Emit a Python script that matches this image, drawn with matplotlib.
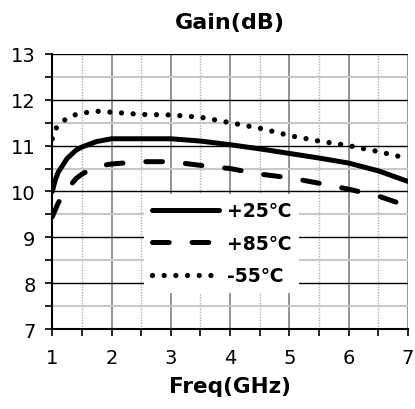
import matplotlib
matplotlib.use('Agg')
import matplotlib.pyplot as plt
from matplotlib.ticker import MultipleLocator

plt.rcParams['font.family'] = ['DejaVu Sans']
plt.rcParams['lines.scale_dashes'] = False

# data
freq = [1.0, 1.05, 1.1, 1.25, 1.4, 1.5, 1.75, 2.0, 2.5, 3.0, 3.5, 4.0, 4.5, 5.0, 5.5, 6.0, 6.5, 7.0]
gain_25 = [10.0, 10.25, 10.42, 10.72, 10.9, 10.97, 11.09, 11.15, 11.15, 11.15, 11.1, 11.02, 10.93, 10.83, 10.73, 10.62, 10.45, 10.22]
gain_85 = [9.45, 9.6, 9.75, 10.05, 10.28, 10.38, 10.55, 10.6, 10.65, 10.65, 10.57, 10.5, 10.38, 10.3, 10.18, 10.05, 9.9, 9.68]
gain_m55 = [11.15, 11.35, 11.45, 11.6, 11.68, 11.71, 11.75, 11.73, 11.68, 11.67, 11.62, 11.5, 11.38, 11.22, 11.1, 11.0, 10.87, 10.72]
labels = ['+25℃', '+85℃', '-55℃']

fig = plt.figure(figsize=(4.15, 4.10), dpi=100)
ax = fig.add_axes([0.126, 0.195, 0.857, 0.671])

ax.plot(freq, gain_25, color='black', lw=3.6, solid_capstyle='round', label=labels[0])
ax.plot(freq, gain_85, color='black', lw=3.6, linestyle=(0, (12, 16.5)),
        dash_capstyle='round', label=labels[1])
ax.plot(freq, gain_m55, color='black', lw=3.8, linestyle=(0, (0.01, 8.4)),
        dash_capstyle='round', label=labels[2])

ax.set_xlim(1, 7)
ax.set_ylim(7, 13)
ax.xaxis.set_major_locator(MultipleLocator(1))
ax.xaxis.set_minor_locator(MultipleLocator(0.5))
ax.yaxis.set_major_locator(MultipleLocator(1))
ax.yaxis.set_minor_locator(MultipleLocator(0.5))

ax.grid(which='major', axis='y', color='black', lw=1.0)
ax.grid(which='minor', axis='y', color='#c8c8c8', lw=1.5)
ax.grid(which='major', axis='x', color='#808080', lw=1.2)
ax.grid(which='minor', axis='x', color='#b0b0b0', lw=1.0, linestyle=(0, (1, 1)))
ax.set_axisbelow(True)

for s in ['top', 'right']:
    ax.spines[s].set_visible(False)
ax.spines['left'].set_linewidth(1.5)
ax.spines['bottom'].set_linewidth(1.5)

ax.tick_params(which='both', direction='out', length=5, width=1.2, color='black')
ax.tick_params(axis='both', labelsize=14)
ax.tick_params(axis='y', pad=7)
ax.tick_params(axis='x', pad=9)

ax.set_title('Gain(dB)', fontsize=16, fontweight='bold', pad=19)
ax.set_xlabel('Freq(GHz)', fontsize=15.5, fontweight='bold', labelpad=6)

leg = ax.legend(loc='lower left', bbox_to_anchor=(0.232, 0.098), frameon=True,
                fancybox=False, framealpha=1, edgecolor='none', facecolor='white',
                handlelength=3.6, handletextpad=0.4, labelspacing=0.72,
                borderpad=0.4, prop={'weight': 'bold', 'size': 13.5})

fig.savefig('out.png', dpi=100)
